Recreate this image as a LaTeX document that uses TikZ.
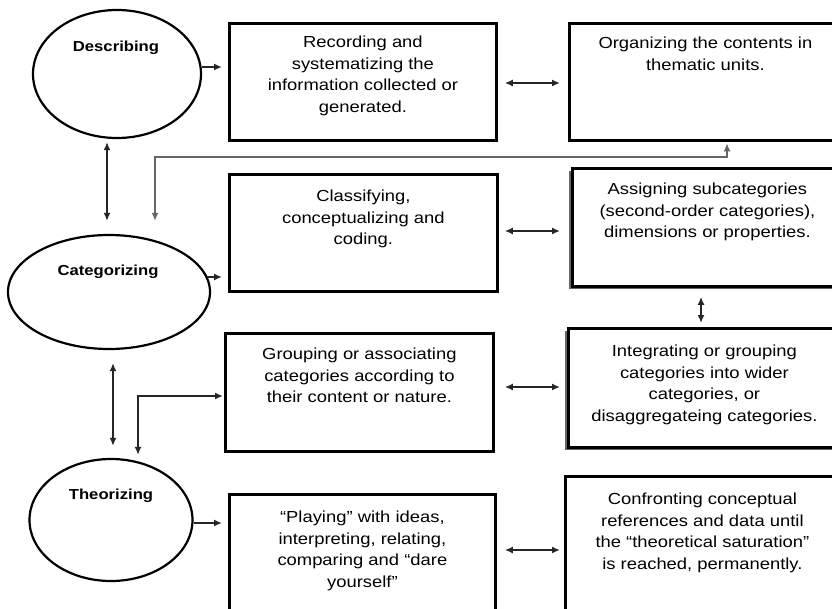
\documentclass[tikz,border=0pt]{standalone}
\usepackage{fontspec}
\setmainfont{Liberation Sans}[FakeStretch=1.15]
\usetikzlibrary{arrows.meta,shapes.geometric,shadows}
\begin{document}
\begin{tikzpicture}[x=1pt,y=-1pt,
  box/.style={draw=black,line width=2.8pt,inner sep=0pt,anchor=north west,fill=white},
  oval/.style={draw=black,ellipse,line width=2.2pt,inner sep=0pt,fill=white},
  txt/.style={align=center,inner sep=0pt,anchor=north,font=\fontsize{16}{21.5}\selectfont},
  lab/.style={inner sep=0pt,font=\fontsize{14.5}{17}\selectfont\bfseries},
  arr/.style={line width=2pt,draw=black!85,-{Latex[length=8pt,width=7pt]}},
  dbl/.style={line width=2pt,draw=black!85,{Latex[length=8pt,width=7pt]}-{Latex[length=8pt,width=7pt]}},
  gdbl/.style={dbl,draw=black!60,line width=2.2pt},
  shad/.style={drop shadow={shadow xshift=-3pt,shadow yshift=-3pt,fill=black!60,opacity=1}}
]
\useasboundingbox (0,0) rectangle (832,608);
\clip (0,0) rectangle (832,608);

% ellipses
\node[oval,minimum width=168pt,minimum height=128pt] (e1) at (117,74) {};
\node[lab] (l1) at (116,48) {Describing};
\node[oval,minimum width=202pt,minimum height=114pt] (e2) at (109,292) {};
\node[lab] (l2) at (108,272) {Categorizing};
\node[oval,minimum width=163pt,minimum height=122pt] (e3) at (111,520) {};
\node[lab] (l3) at (111,496) {Theorizing};

% boxes
\node[box,minimum width=267pt,minimum height=117pt] (b1) at (228,22) {};
\node[txt] (t1) at ([yshift=-14pt]b1.north) {Recording and\\systematizing the\\information collected or\\generated.};
\node[box,minimum width=272pt,minimum height=117pt] (b2) at (568,22) {};
\node[txt] (t2) at ([yshift=-15pt]b2.north) {Organizing the contents in\\thematic units.};
\node[box,minimum width=268pt,minimum height=117pt] (b3) at (228,173) {};
\node[txt] (t3) at ([yshift=-17pt]b3.north) {Classifying,\\conceptualizing and\\coding.};
\node[box,shad,minimum width=270pt,minimum height=118pt] (b4) at (571,167) {};
\node[txt] (t4) at ([yshift=-16pt]b4.north) {Assigning subcategories\\(second-order categories),\\dimensions or properties.};
\node[box,minimum width=268pt,minimum height=118pt] (b5) at (224,332) {};
\node[txt] (t5) at ([yshift=-16pt]b5.north) {Grouping or associating\\categories according to\\their content or nature.};
\node[box,shad,minimum width=272pt,minimum height=119pt] (b6) at (567,327) {};
\node[txt] (t6) at ([yshift=-18pt]b6.north) {Integrating or grouping\\categories into wider\\categories, or\\disaggregateing categories.};
\node[box,minimum width=266pt,minimum height=140pt] (b7) at (228,493) {};
\node[txt] (t7) at ([yshift=-18pt]b7.north) {“Playing” with ideas,\\interpreting, relating,\\comparing and “dare\\yourself”};
\node[box,minimum width=274pt,minimum height=160pt] (b8) at (564,475) {};
\node[txt] (t8) at ([yshift=-18pt]b8.north) {Confronting conceptual\\references and data until\\the “theoretical saturation”\\is reached, permanently.};

% helper coordinates
\coordinate (p1) at (0,67);
\coordinate (p2) at (0,277);
\coordinate (p3) at (0,523);
\coordinate (r1) at (0,83);
\coordinate (r2) at (0,231);
\coordinate (r3) at (0,387);
\coordinate (r4) at (0,550);
\coordinate (v1) at (107,0);
\coordinate (v2) at (113,0);
\coordinate (v3) at (701,0);
\coordinate (g1) at (727,157);
\coordinate (g2) at (155,157);
\coordinate (h1) at (138,396);

% single arrows
\draw[arr,shorten >=6pt] (e1.east |- p1) -- (b1.west |- p1);
\draw[arr,shorten <=-4pt,shorten >=6pt] (e2.east |- p2) -- (b3.west |- p2);
\draw[arr,shorten >=6pt] (e3.east |- p3) -- (b7.west |- p3);

% horizontal double arrows
\draw[dbl,shorten <=7pt,shorten >=8pt] (b1.east |- r1) -- (b2.west |- r1);
\draw[dbl,shorten <=6pt,shorten >=11pt] (b3.east |- r2) -- (b4.west |- r2);
\draw[dbl,shorten <=10pt,shorten >=7pt] (b5.east |- r3) -- (b6.west |- r3);
\draw[dbl,shorten <=8pt,shorten >=4pt] (b7.east |- r4) -- (b8.west |- r4);

% vertical double arrows
\draw[dbl,shorten <=3pt,shorten >=13pt] (e1.south -| v1) -- (e2.north -| v1);
\draw[dbl,shorten <=13pt,shorten >=12pt] (e2.south -| v2) -- (e3.north -| v2);
\draw[dbl,shorten <=9pt,shorten >=4pt] (b4.south -| v3) -- (b6.north -| v3);

% elbow connectors
\draw[gdbl,shorten <=1.5pt,shorten >=13pt] (b2.south -| g1) -- (g1) -- (g2) -- (g2 |- e2.north);
\draw[dbl,shorten <=3pt,shorten >=1pt] (e3.north -| h1) -- (h1) -- (h1 -| b5.west);
\end{tikzpicture}
\end{document}
